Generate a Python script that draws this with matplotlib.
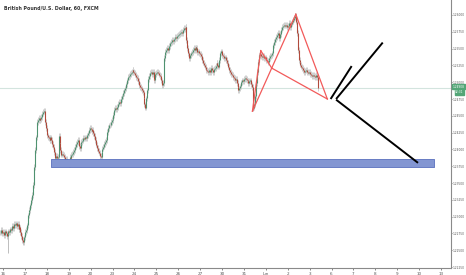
import matplotlib
import numpy as np

matplotlib.use("Agg")
import matplotlib.pyplot as plt

title = "British Pound/U.S. Dollar, 60, FXCM"
day_labels = ["16", "17", "18", "19", "20", "23", "24", "25", "26", "27",
              "30", "31", "Jun", "2", "3", "6", "7", "8", "9", "10", "13"]
price_ticks = [1.26000, 1.25750, 1.25500, 1.25250, 1.25000, 1.24750, 1.24500, 1.24250,
               1.24000, 1.23750, 1.23500, 1.23250, 1.23000, 1.22750, 1.22500, 1.22250]

# hourly closes, first 3 bars belong to the previous session
closes = [
    1.2276, 1.2280, 1.2275,
    1.2277, 1.2272, 1.2278, 1.2275, 1.2271, 1.2274, 1.2278, 1.2277, 1.2281, 1.2280, 1.2286, 1.2283,
    1.2289, 1.2287, 1.2290, 1.2286, 1.2289, 1.2281, 1.2284, 1.2277, 1.2271, 1.2265, 1.2262, 1.2269,
    1.2277, 1.2280, 1.2287, 1.2302, 1.2307, 1.2310, 1.2317, 1.2325, 1.2332, 1.2347, 1.2374, 1.2399,
    1.2418, 1.2441, 1.2444, 1.2447, 1.2444, 1.2445, 1.2448, 1.2453, 1.2456, 1.2457, 1.2441, 1.2432,
    1.2421, 1.2418, 1.2417, 1.2414, 1.2418, 1.2414, 1.2408, 1.2404, 1.2396, 1.2387, 1.2390, 1.2387,
    1.2389, 1.2420, 1.2410, 1.2399, 1.2392, 1.2393, 1.2392, 1.2389, 1.2384, 1.2386, 1.2381, 1.2380,
    1.2378, 1.2389, 1.2387, 1.2392, 1.2393, 1.2396, 1.2399, 1.2404, 1.2408, 1.2411, 1.2414, 1.2405,
    1.2402, 1.2408, 1.2411, 1.2413, 1.2417, 1.2416, 1.2418, 1.2417, 1.2421, 1.2424, 1.2429, 1.2432,
    1.2430, 1.2427, 1.2429, 1.2424, 1.2420, 1.2414, 1.2407, 1.2402, 1.2398, 1.2395, 1.2390, 1.2389,
    1.2396, 1.2401, 1.2404, 1.2408, 1.2411, 1.2414, 1.2426, 1.2432, 1.2436, 1.2437, 1.2441, 1.2444,
    1.2445, 1.2451, 1.2459, 1.2462, 1.2460, 1.2463, 1.2468, 1.2471, 1.2469, 1.2475, 1.2479, 1.2481,
    1.2484, 1.2488, 1.2491, 1.2497, 1.2503, 1.2508, 1.2509, 1.2512, 1.2514, 1.2515, 1.2518, 1.2515,
    1.2514, 1.2511, 1.2508, 1.2506, 1.2502, 1.2496, 1.2493, 1.2491, 1.2488, 1.2485, 1.2476, 1.2467,
    1.2462, 1.2476, 1.2488, 1.2505, 1.2509, 1.2514, 1.2515, 1.2512, 1.2515, 1.2505, 1.2503, 1.2512,
    1.2514, 1.2515, 1.2514, 1.2511, 1.2509, 1.2503, 1.2496, 1.2499, 1.2536, 1.2540, 1.2545, 1.2548,
    1.2551, 1.2548, 1.2554, 1.2558, 1.2560, 1.2563, 1.2561, 1.2564, 1.2566, 1.2567, 1.2566, 1.2569,
    1.2570, 1.2572, 1.2573, 1.2575, 1.2573, 1.2578, 1.2581, 1.2579, 1.2582, 1.2563, 1.2551, 1.2543,
    1.2536, 1.2540, 1.2543, 1.2545, 1.2548, 1.2551, 1.2548, 1.2552, 1.2551, 1.2545, 1.2546, 1.2543,
    1.2542, 1.2539, 1.2533, 1.2529, 1.2526, 1.2523, 1.2520, 1.2518, 1.2517, 1.2515, 1.2518, 1.2515,
    1.2521, 1.2518, 1.2515, 1.2520, 1.2521, 1.2524, 1.2529, 1.2526, 1.2523, 1.2533, 1.2543, 1.2546,
    1.2540, 1.2539, 1.2536, 1.2537, 1.2533, 1.2530, 1.2529, 1.2523, 1.2518, 1.2515, 1.2512, 1.2511,
    1.2508, 1.2506, 1.2503, 1.2505, 1.2499, 1.2493, 1.2488, 1.2491, 1.2494, 1.2500, 1.2503, 1.2502,
    1.2505, 1.2506, 1.2505, 1.2503, 1.2502, 1.2499, 1.2502, 1.2503, 1.2497, 1.2493, 1.2462, 1.2467,
    1.2479, 1.2499, 1.2515, 1.2530, 1.2539, 1.2540, 1.2542, 1.2539, 1.2537, 1.2539, 1.2536, 1.2537,
    1.2533, 1.2532, 1.2530, 1.2533, 1.2536, 1.2539, 1.2540, 1.2543, 1.2555, 1.2560, 1.2564, 1.2567,
    1.2570, 1.2573, 1.2569, 1.2566, 1.2572, 1.2578, 1.2582, 1.2584, 1.2585, 1.2584, 1.2585, 1.2582,
    1.2584, 1.2588, 1.2585, 1.2582, 1.2587, 1.2590, 1.2593, 1.2596, 1.2599, 1.2590, 1.2573, 1.2548,
    1.2533, 1.2530, 1.2526, 1.2523, 1.2521, 1.2518, 1.2515, 1.2517, 1.2518, 1.2515, 1.2514, 1.2515,
    1.2512, 1.2511, 1.2511, 1.2509, 1.2511, 1.2509, 1.2508, 1.2511, 1.2508, 1.2491,
]
# a few long wicks (bar index, extreme price)
wick_bars = [8, 25, 277, 323]
wick_prices = [1.2246, 1.2259, 1.2457, 1.2603]
last_price = "1.24908"
countdown = "02:31"

# harmonic pattern X A B C D (day index, price)
pat_x = [11.39, 11.77, 12.27, 13.37, 14.81]
pat_y = [1.2457, 1.2547, 1.2521, 1.2601, 1.2475]
# projection lines drawn by hand
proj = [([14.96, 15.92], [1.2475, 1.2524]),
        ([15.21, 17.34], [1.2475, 1.2559]),
        ([15.21, 18.95], [1.2474, 1.2380])]
zone_x = [2.19, 19.68]
zone_y = [1.2374, 1.2386]


def main():
    fig = plt.figure(figsize=(4.66, 2.75), dpi=100)
    ax = fig.add_axes([0, 7 / 275, 451 / 466, 268 / 275])

    c = np.array(closes)
    o = np.r_[c[0], c[:-1]]
    x = (np.arange(len(c)) - 3) / 24.0
    up = c >= o
    pad = 0.0004
    ax.vlines(x, np.minimum(o, c) - pad, np.maximum(o, c) + pad, color='#cfcfcf', lw=0.7, zorder=2)
    for b, p in zip(wick_bars, wick_prices):
        ax.vlines(x[b], min(p, c[b]), max(p, c[b]), color='#bdbdbd', lw=0.7, zorder=2)
    ax.vlines(x[up], o[up], c[up], color='#4f9270', lw=0.8, zorder=3)
    ax.vlines(x[~up], o[~up], c[~up], color='#b04a3c', lw=0.8, zorder=3)

    ax.axhline(closes[-1], color='#d3e4de', lw=0.8, zorder=1)

    # zone
    ax.fill_between(zone_x, zone_y[0], zone_y[1], facecolor='#8396d2', edgecolor='#5a70bd', lw=0.6, zorder=4)

    # red pattern
    red = '#f25a5a'
    P = list(zip(pat_x, pat_y))
    for a, b in [(0, 1), (1, 2), (0, 2), (2, 3), (3, 4), (2, 4)]:
        ax.plot([P[a][0], P[b][0]], [P[a][1], P[b][1]], color=red, lw=0.9, zorder=5)
    for px, py in proj:
        ax.plot(px, py, color='black', lw=1.4, zorder=5, solid_capstyle='butt')

    ax.set_xlim(-3 / 21.9, 448 / 21.9)
    ax.set_ylim(1.26 - 253 * 0.0001488, 1.26 + 15 * 0.0001488)
    ax.set_xticks(range(len(day_labels)))
    ax.set_xticklabels(day_labels)
    ax.set_yticks(price_ticks)
    ax.set_yticklabels(["%.5f" % p for p in price_ticks], family='Liberation Sans Narrow')
    ax.yaxis.tick_right()
    for s in ['top', 'left']:
        ax.spines[s].set_visible(False)
    for s in ['right', 'bottom']:
        ax.spines[s].set_color('#8a8a8a')
        ax.spines[s].set_linewidth(0.8)
    ax.tick_params(axis='x', labelsize=3.0, colors='#555555', length=1.5, width=0.5, pad=1.5)
    ax.tick_params(axis='y', labelsize=2.1, colors='#555555', length=1.0, width=0.5, pad=0.4)

    ax.annotate(last_price, xy=(1.0, closes[-1]), xycoords=('axes fraction', 'data'),
                xytext=(1.0, 1.0), textcoords='offset points', fontsize=2.1, color='white',
                va='center', ha='left', family='Liberation Sans Narrow',
                bbox=dict(boxstyle='square,pad=0.2', fc='#53a677', ec='#53a677'))
    ax.annotate(countdown, xy=(1.0, closes[-1]), xycoords=('axes fraction', 'data'),
                xytext=(3.0, -2.7), textcoords='offset points', fontsize=2.1, color='white',
                va='center', ha='left', family='Liberation Sans Narrow',
                bbox=dict(boxstyle='square,pad=0.2', fc='#53a677', ec='#53a677'))

    fig.text(0.008, 0.978, title, fontsize=3.4, fontweight='bold', color='#333333', va='top')
    fig.savefig("out.png", dpi=100)


if __name__ == "__main__":
    main()
